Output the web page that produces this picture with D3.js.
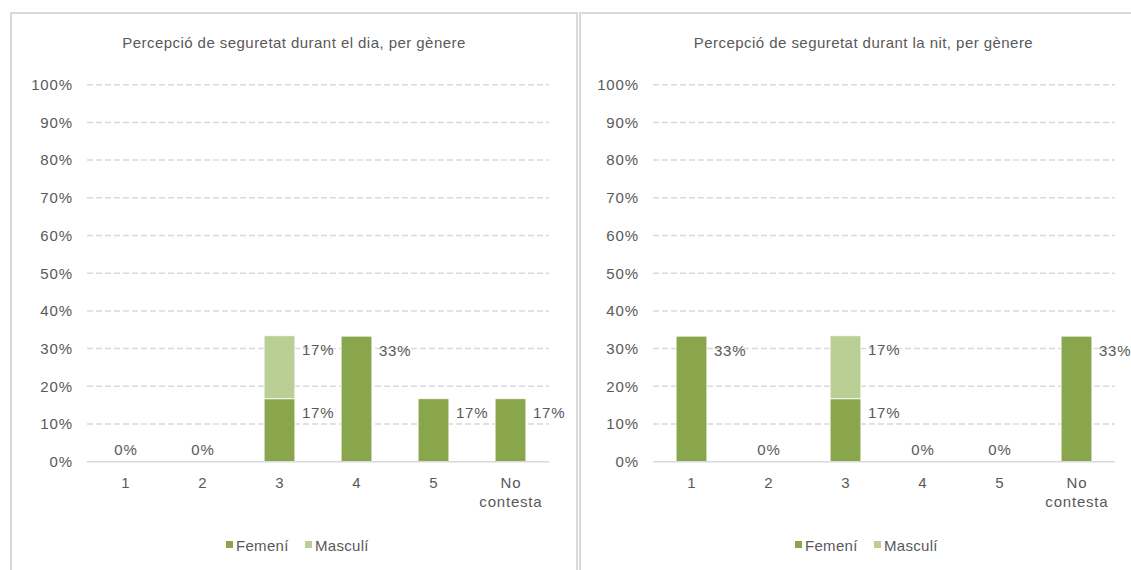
<!DOCTYPE html>
<html>
<head>
<meta charset="utf-8">
<script src="https://cdn.jsdelivr.net/npm/d3@7"></script>
<style>
  html, body { margin: 0; padding: 0; background: #fff; }
  svg { display: block; }
  text { font-family: "Liberation Sans", Arial, sans-serif; fill: #595959; }
</style>
</head>
<body>
<svg id="chart" width="1131" height="570"></svg>
<script>
// ---- Data ----
const categories = ["1", "2", "3", "4", "5", "No contesta"];
const yTickValues = [0, 10, 20, 30, 40, 50, 60, 70, 80, 90, 100];
const seriesNames = ["Femení", "Masculí"];
const seriesColors = ["#8aa64d", "#b9cf94"];

const dayTitle = "Percepció de seguretat durant el dia, per gènere";
const dayFemeni = [0, 0, 16.7, 33.3, 16.7, 16.7];
const dayMasculi = [0, 0, 16.7, 0, 0, 0];

const nightTitle = "Percepció de seguretat durant la nit, per gènere";
const nightFemeni = [33.3, 0, 16.7, 0, 0, 33.3];
const nightMasculi = [0, 0, 16.7, 0, 0, 0];

const svg = d3.select("#chart");
const LS = "0.8px";

function drawPanel(opts) {
  const g = svg.append("g");
  // panel border
  g.append("rect")
    .attr("x", opts.panelX).attr("y", 13)
    .attr("width", opts.panelW).attr("height", 640)
    .attr("fill", "none").attr("stroke", "#d9d9d9").attr("stroke-width", 2);

  const panelCx = opts.panelX + opts.panelW / 2;

  g.append("text")
    .attr("x", panelCx).attr("y", 48)
    .attr("text-anchor", "middle")
    .style("font-size", "15px")
    .style("letter-spacing", "0.45px")
    .text(opts.title);

  const x = d3.scaleBand()
    .domain(categories)
    .range([opts.plotL, opts.plotR])
    .paddingInner(0.6).paddingOuter(0.3);
  const y = d3.scaleLinear().domain([0, 100]).range([461.7, 84.7]);

  // gridlines
  g.append("g").selectAll("line")
    .data(yTickValues.filter(v => v > 0))
    .join("line")
    .attr("x1", opts.plotL).attr("x2", opts.plotR)
    .attr("y1", d => y(d)).attr("y2", d => y(d))
    .attr("stroke", "#d9d9d9").attr("stroke-width", 1.5)
    .attr("stroke-dasharray", "6,3");

  // y axis labels
  const yAxis = d3.axisLeft(y).tickValues(yTickValues).tickSize(0).tickPadding(0)
    .tickFormat(d => d + "%");
  const ya = g.append("g").attr("transform", `translate(${opts.plotL - 14.2},0)`).call(yAxis);
  ya.select(".domain").remove();
  ya.selectAll("text").style("font-size", "15px").attr("fill", "#595959")
    .style("letter-spacing", LS)
    .style("font-family", "Liberation Sans, Arial, sans-serif");

  // stacked data
  const rows = categories.map((c, i) => ({ cat: c, f: opts.fem[i], m: opts.mas[i] }));
  const stack = d3.stack().keys(["f", "m"])(rows);

  stack.forEach((layer, si) => {
    g.append("g").selectAll("rect")
      .data(layer.filter(d => d[1] - d[0] > 0))
      .join("rect")
      .attr("x", d => x(d.data.cat))
      .attr("width", x.bandwidth())
      .attr("y", d => y(d[1]))
      .attr("height", d => y(d[0]) - y(d[1]))
      .attr("fill", seriesColors[si])
      .attr("stroke", "#ffffff").attr("stroke-width", 0.8);
  });

  // baseline
  g.append("line")
    .attr("x1", opts.plotL).attr("x2", opts.plotR)
    .attr("y1", y(0)).attr("y2", y(0))
    .attr("stroke", "#d9d9d9").attr("stroke-width", 1.5);

  // data labels
  stack.forEach((layer) => {
    g.append("g").selectAll("text")
      .data(layer.filter(d => d[1] - d[0] > 0))
      .join("text")
      .attr("x", d => x(d.data.cat) + x.bandwidth() + 7)
      .attr("y", d => y(d[1]) + 19.5)
      .style("font-size", "15px")
      .style("letter-spacing", LS)
      .text(d => Math.round(d[1] - d[0]) + "%");
  });
  // zero labels
  g.append("g").selectAll("text")
    .data(rows.filter(r => r.f + r.m === 0))
    .join("text")
    .attr("x", d => x(d.cat) + x.bandwidth() / 2 + 0.4)
    .attr("y", y(0) - 6.5)
    .attr("text-anchor", "middle")
    .style("font-size", "15px")
    .style("letter-spacing", LS)
    .text("0%");

  // x axis labels
  const xl = g.append("g").selectAll("text")
    .data(categories)
    .join("text")
    .attr("x", d => x(d) + x.bandwidth() / 2)
    .attr("y", 488)
    .attr("text-anchor", "middle")
    .style("font-size", "15px")
    .style("letter-spacing", LS);
  xl.each(function(d) {
    const words = d.split(" ");
    const t = d3.select(this);
    words.forEach((w, i) => {
      t.append("tspan").attr("x", x(d) + x.bandwidth() / 2 + 0.4)
        .attr("dy", i === 0 ? 0 : 18.5).text(w);
    });
  });

  // legend
  const legX = [opts.panelX + 215, opts.panelX + 294];
  seriesNames.forEach((name, i) => {
    g.append("rect").attr("x", legX[i]).attr("y", 541)
      .attr("width", 7).attr("height", 7).attr("fill", seriesColors[i]);
    g.append("text").attr("x", legX[i] + 10).attr("y", 550.5)
      .style("font-size", "15px").style("letter-spacing", "0.3px").text(name);
  });
}

drawPanel({ panelX: 11, panelW: 566, plotL: 87, plotR: 549,
  title: dayTitle, fem: dayFemeni, mas: dayMasculi });
drawPanel({ panelX: 580, panelW: 567, plotL: 653, plotR: 1115,
  title: nightTitle, fem: nightFemeni, mas: nightMasculi });
</script>
</body>
</html>
